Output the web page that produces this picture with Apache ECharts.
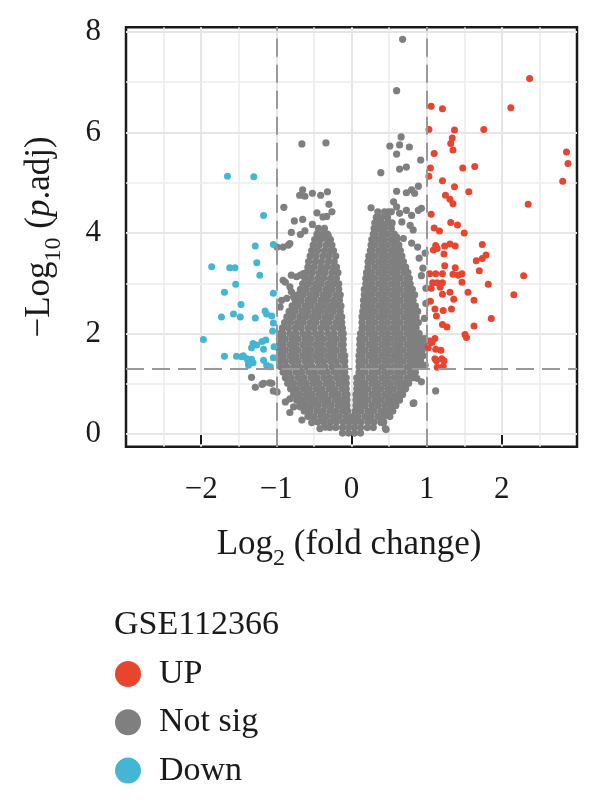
<!DOCTYPE html>
<html><head><meta charset="utf-8">
<script src="https://cdn.jsdelivr.net/npm/echarts@6/dist/echarts.min.js"></script>
<style>html,body{margin:0;padding:0;background:#fff}#c{width:600px;height:806px}</style>
</head><body><div id="c"></div>
<script>
// ---- data ----
const xTicks = [-2, -1, 0, 1, 2];
const yTicks = [0, 2, 4, 6, 8];
const yMajorGrid = [0, 2, 4, 6, 8];
const yMinorGrid = [1, 3, 5, 7];
const fcCut = [-1, 1];
const padjCut = 1.3;
const legendTitle = 'GSE112366';
const groupNames = ['UP', 'Not sig', 'Down'];

const upPoints = [
[2.37,7.07],[1.06,6.52],[1.21,6.47],[2.12,6.49],[1.03,6.06],[1.37,6.05],[1.76,6.06],[1.34,5.89],[1.32,5.78],[1.35,5.65],
[1.10,5.58],[2.86,5.61],[2.88,5.38],[1.05,5.29],[1.48,5.29],[1.64,5.32],[1.03,5.13],[1.21,5.04],[2.81,5.03],[1.37,4.92],
[1.56,4.82],[1.25,4.75],[1.31,4.67],[1.35,4.58],[2.35,4.57],[1.06,4.37],[1.32,4.21],[1.41,4.16],[1.10,4.10],[1.17,4.04],
[1.50,4.00],[1.74,3.77],[1.12,3.75],[1.24,3.74],[1.31,3.78],[1.38,3.74],[1.09,3.66],[1.23,3.58],[1.14,3.69],[1.79,3.56],
[1.74,3.49],[1.66,3.45],[1.24,3.35],[1.38,3.31],[1.70,3.25],[1.04,3.19],[1.12,3.19],[1.21,3.19],[1.35,3.18],[1.42,3.16],
[1.47,3.19],[2.29,3.15],[1.47,3.02],[1.08,3.01],[1.14,3.01],[1.21,3.01],[1.06,2.90],[1.18,2.92],[1.31,2.82],[1.55,2.82],
[1.82,2.98],[2.16,2.77],[1.21,2.78],[1.05,2.64],[1.36,2.68],[1.63,2.66],[1.11,2.49],[1.22,2.46],[1.33,2.49],[1.13,2.35],
[1.86,2.30],[1.21,2.18],[1.27,2.13],[1.63,2.15],[1.51,1.98],[1.53,1.92],[1.11,1.90],[1.07,1.82],[1.02,1.72],[1.12,1.69],
[1.19,1.67],[1.11,1.50],[1.20,1.50],[1.23,1.46],[1.13,1.46],[1.22,1.35],[1.04,1.85],[1.14,1.33]
];

const downPoints = [
[-1.65,5.13],[-1.30,5.12],[-1.17,4.35],[-1.28,3.74],[-1.04,3.77],[-1.86,3.33],[-1.62,3.31],[-1.55,3.31],[-1.26,3.41],[-1.22,3.16],
[-1.69,2.82],[-1.54,2.98],[-1.04,2.80],[-1.47,2.58],[-1.73,2.33],[-1.57,2.39],[-1.48,2.33],[-1.28,2.31],[-1.15,2.45],[-1.13,2.39],
[-1.06,2.35],[-1.04,2.21],[-1.05,2.05],[-1.97,1.88],[-1.31,1.80],[-1.26,1.77],[-1.19,1.84],[-1.14,1.87],[-1.33,1.72],[-1.17,1.69],
[-1.03,1.74],[-1.69,1.55],[-1.53,1.55],[-1.46,1.54],[-1.39,1.50],[-1.33,1.49],[-1.37,1.42],[-1.31,1.42],[-1.37,1.37],[-1.17,1.47],
[-1.13,1.37],[-1.08,1.34],[-1.04,1.52],[-1.44,1.56]
];

const notSigScatter = [
[0.68,7.85],[0.60,6.83],[-0.66,5.77],[-0.34,5.79],
[0.66,5.91],[0.64,5.75],[0.51,5.73],[0.77,5.71],[0.60,5.57],[0.92,5.45],[0.39,5.20],[0.64,5.27],[0.73,5.31],
[0.89,4.93],[0.80,4.86],[0.73,4.80],[0.60,4.83],[0.84,4.79],
[0.26,4.50],[0.56,4.62],[0.60,4.52],[0.53,4.42],[0.64,4.39],[0.73,4.45],[0.80,4.35],[0.89,4.45],[0.93,4.49],
[0.34,4.22],[0.42,4.15],[0.53,4.19],[0.67,4.22],[0.78,4.15],[0.82,4.06],
[0.29,3.89],[0.42,3.92],[0.60,3.92],[0.69,3.89],
[-0.65,4.86],[-0.69,4.75],[-0.62,4.73],[-0.52,4.79],[-0.41,4.75],[-0.32,4.82],
[-0.90,4.51],[-0.30,4.57],[-0.26,4.42],[-0.33,4.33],[-0.46,4.40],[-0.38,4.32],
[-0.76,4.24],[-0.65,4.27],[-0.52,4.17],
[-0.80,4.01],[-0.68,3.97],[-0.62,4.04],[-0.44,3.94],[-0.38,3.92],[-0.31,3.95],
[-0.84,3.76],[-0.91,3.72],[-0.99,3.72],[-0.82,3.79],
[-0.91,3.06],[-0.80,2.83],[-0.82,2.93],[-0.93,2.66],[-0.86,2.70],[-0.95,2.53],
[-0.80,3.16],[-0.73,3.13],[-0.68,3.16],[-0.64,3.19],[-0.77,2.73],[-0.88,3.02],
[-1.33,1.13],[-1.28,0.93],[-1.19,0.99],[-1.06,1.01],[-1.04,0.86],[-0.99,0.84],[-0.88,0.64],[-0.82,0.70],[-0.82,0.43],
[-0.66,0.28],[-0.77,0.54],[-0.68,0.54],[-0.57,0.50],[-0.53,0.23],[-0.42,0.11],[-0.35,0.14],[-1.09,1.02],[-1.17,1.01],
[1.12,0.86],[0.82,0.61],[0.87,1.11],[0.93,1.04],[0.80,1.14],[0.64,0.68],[0.56,0.71],[0.45,0.11],[0.40,0.23],[0.46,0.09],
[0.93,1.36],[0.98,1.37],[0.83,0.62],
[0.97,2.30],[0.99,2.90],[0.95,3.30],[0.98,3.60],[0.90,3.50],[0.93,3.15],[0.97,1.90],[0.99,2.60],[0.88,3.72],[0.80,3.80]
];

// dense core of the "Not sig" cloud, one row per -log10(padj) level: [y, [log2FC values]]
const notSigRows = [
[0.02,[-0.12,-0.04,0.04,0.12]],
[0.13,[-0.29,-0.21,-0.12,-0.04,0.04,0.12,0.21,0.29]],
[0.24,[-0.45,-0.37,-0.28,-0.20,-0.11,-0.03,0.05,0.13,0.22,0.30,0.39,0.43]],
[0.35,[-0.58,-0.50,-0.41,-0.33,-0.24,-0.16,-0.07,0.01,0.09,0.18,0.26,0.35,0.43,0.51]],
[0.46,[-0.63,-0.55,-0.46,-0.38,-0.29,-0.21,-0.12,-0.05,0.05,0.13,0.22,0.30,0.39,0.47,0.55]],
[0.57,[-0.69,-0.61,-0.52,-0.44,-0.35,-0.27,-0.18,-0.10,-0.06,0.06,0.10,0.18,0.27,0.35,0.44,0.52,0.59]],
[0.68,[-0.73,-0.65,-0.56,-0.48,-0.39,-0.31,-0.22,-0.14,-0.06,0.06,0.14,0.22,0.31,0.39,0.48,0.56,0.63]],
[0.79,[-0.77,-0.69,-0.60,-0.52,-0.43,-0.35,-0.26,-0.18,-0.09,-0.06,0.06,0.10,0.18,0.27,0.35,0.44,0.52,0.61,0.68]],
[0.90,[-0.81,-0.73,-0.64,-0.56,-0.47,-0.39,-0.30,-0.22,-0.13,-0.07,0.07,0.14,0.22,0.31,0.39,0.48,0.56,0.65,0.72]],
[1.01,[-0.85,-0.77,-0.68,-0.60,-0.51,-0.43,-0.34,-0.26,-0.17,-0.09,-0.07,0.07,0.10,0.18,0.27,0.35,0.44,0.52,0.61,0.69,0.76]],
[1.12,[-0.88,-0.80,-0.71,-0.63,-0.54,-0.46,-0.37,-0.29,-0.20,-0.12,-0.07,0.07,0.14,0.23,0.31,0.40,0.48,0.57,0.65,0.74,0.81]],
[1.23,[-0.91,-0.83,-0.74,-0.66,-0.57,-0.49,-0.40,-0.32,-0.23,-0.15,-0.09,0.10,0.18,0.27,0.35,0.44,0.52,0.61,0.69,0.78,0.85]],
[1.34,[-0.94,-0.86,-0.77,-0.69,-0.60,-0.52,-0.43,-0.35,-0.26,-0.18,-0.09,0.10,0.14,0.23,0.31,0.40,0.48,0.57,0.65,0.74,0.82,0.88]],
[1.45,[-0.96,-0.88,-0.79,-0.71,-0.62,-0.54,-0.45,-0.37,-0.28,-0.20,-0.11,-0.09,0.10,0.18,0.27,0.35,0.44,0.52,0.61,0.69,0.78,0.86,0.92]],
[1.56,[-0.96,-0.91,-0.82,-0.74,-0.65,-0.57,-0.48,-0.40,-0.31,-0.23,-0.14,-0.09,0.10,0.14,0.23,0.31,0.40,0.48,0.57,0.65,0.74,0.82,0.90,0.95]],
[1.67,[-0.96,-0.88,-0.79,-0.71,-0.62,-0.54,-0.45,-0.37,-0.28,-0.20,-0.11,0.11,0.18,0.27,0.35,0.44,0.52,0.61,0.69,0.78,0.86,0.94]],
[1.78,[-0.96,-0.91,-0.82,-0.74,-0.65,-0.57,-0.48,-0.40,-0.31,-0.23,-0.14,-0.11,0.11,0.14,0.23,0.31,0.40,0.48,0.57,0.65,0.74,0.82,0.90,0.96]],
[1.89,[-0.96,-0.88,-0.79,-0.71,-0.62,-0.54,-0.45,-0.37,-0.28,-0.20,-0.11,0.11,0.18,0.27,0.35,0.44,0.52,0.61,0.69,0.78,0.86,0.94]],
[2.00,[-0.95,-0.91,-0.82,-0.74,-0.65,-0.57,-0.48,-0.40,-0.31,-0.23,-0.14,-0.11,0.12,0.14,0.23,0.31,0.40,0.48,0.57,0.65,0.74,0.82,0.90]],
[2.11,[-0.92,-0.84,-0.75,-0.67,-0.58,-0.50,-0.41,-0.33,-0.24,-0.16,-0.12,0.14,0.19,0.27,0.36,0.44,0.53,0.61,0.70,0.78,0.86]],
[2.22,[-0.89,-0.81,-0.72,-0.64,-0.55,-0.47,-0.38,-0.30,-0.21,-0.13,0.14,0.23,0.31,0.40,0.48,0.57,0.65,0.74,0.82,0.89]],
[2.33,[-0.86,-0.78,-0.69,-0.61,-0.52,-0.44,-0.35,-0.27,-0.18,-0.13,0.14,0.19,0.27,0.36,0.44,0.53,0.61,0.70,0.78,0.86]],
[2.44,[-0.83,-0.75,-0.66,-0.58,-0.49,-0.41,-0.32,-0.24,-0.15,0.15,0.23,0.31,0.40,0.48,0.57,0.65,0.74,0.82,0.88]],
[2.55,[-0.79,-0.71,-0.62,-0.54,-0.45,-0.37,-0.28,-0.20,-0.14,0.16,0.19,0.27,0.36,0.44,0.53,0.61,0.70,0.78,0.85]],
[2.66,[-0.75,-0.67,-0.58,-0.50,-0.41,-0.33,-0.24,-0.16,0.16,0.23,0.31,0.40,0.48,0.57,0.65,0.74,0.82]],
[2.77,[-0.72,-0.64,-0.55,-0.47,-0.38,-0.30,-0.21,-0.15,0.17,0.19,0.27,0.36,0.44,0.53,0.61,0.70,0.78,0.84]],
[2.88,[-0.68,-0.60,-0.51,-0.43,-0.34,-0.26,-0.17,0.17,0.23,0.31,0.40,0.48,0.57,0.65,0.74,0.81]],
[2.99,[-0.65,-0.57,-0.48,-0.40,-0.31,-0.23,-0.17,0.19,0.27,0.36,0.44,0.53,0.61,0.70,0.78]],
[3.10,[-0.62,-0.54,-0.45,-0.37,-0.28,-0.20,0.19,0.23,0.31,0.40,0.48,0.57,0.65,0.74,0.77]],
[3.21,[-0.60,-0.52,-0.43,-0.35,-0.26,-0.18,0.20,0.27,0.36,0.44,0.53,0.61,0.70,0.75]],
[3.32,[-0.58,-0.50,-0.41,-0.33,-0.24,-0.20,0.22,0.31,0.40,0.48,0.57,0.65,0.72]],
[3.43,[-0.57,-0.48,-0.40,-0.31,-0.23,0.22,0.27,0.36,0.44,0.53,0.61,0.69]],
[3.54,[-0.55,-0.47,-0.38,-0.30,-0.21,0.23,0.31,0.40,0.48,0.57,0.65,0.67]],
[3.65,[-0.53,-0.45,-0.36,-0.28,-0.24,0.25,0.27,0.36,0.44,0.53,0.61,0.65]],
[3.76,[-0.51,-0.43,-0.34,-0.26,0.26,0.31,0.40,0.48,0.57,0.63]],
[3.87,[-0.49,-0.41,-0.32,-0.28,0.27,0.36,0.44,0.53,0.60]],
[3.98,[-0.46,-0.38,-0.32,0.29,0.31,0.40,0.48,0.57]],
[4.09,[-0.44,-0.36,0.30,0.36,0.44,0.53]],
[4.20,[0.31,0.40,0.48,0.54]],
[4.31,[0.33,0.40,0.48]],
[4.42,[0.35,0.44,0.49]]
];

// ---- build ----
const notSigPoints = [];
notSigRows.forEach(r => r[1].forEach(x => notSigPoints.push([x, r[0]])));
notSigScatter.forEach(p => notSigPoints.push(p));

const FF = "'Liberation Serif','Times New Roman',serif";
const INK = '#1a1a1a';
const minus = v => String(v).replace('-', '\u2212');

const chart = echarts.init(document.getElementById('c'), null, {renderer: 'canvas'});
const gridLine = (v, major) => ({yAxis: v, lineStyle: {color: major ? '#e6e6e6' : '#ececec', width: major ? 2 : 1.5, type: 'solid'}});

chart.setOption({
  animation: false,
  backgroundColor: '#fff',
  grid: {left: 126, top: 27.3, width: 451, height: 419.4, show: true, borderColor: INK, borderWidth: 2.5, backgroundColor: '#fff'},
  xAxis: {
    type: 'value', min: -3, max: 3, interval: 1,
    axisLine: {show: false},
    axisTick: {show: true, customValues: xTicks, length: 10, lineStyle: {color: INK, width: 2}},
    axisLabel: {customValues: xTicks, margin: 28, fontSize: 31, fontFamily: FF, color: INK, formatter: minus},
    splitLine: {show: true, lineStyle: {color: '#e6e6e6', width: 2}},
    minorTick: {show: false, splitNumber: 2},
    minorSplitLine: {show: true, lineStyle: {color: '#ececec', width: 1.5}}
  },
  yAxis: {
    type: 'value', min: -0.25, max: 8.09,
    axisLine: {show: false},
    axisTick: {show: true, customValues: yTicks, length: 9, lineStyle: {color: INK, width: 2}},
    axisLabel: {customValues: yTicks, margin: 25, fontSize: 31, fontFamily: FF, color: INK, formatter: minus},
    splitLine: {show: false}
  },
  legend: {
    data: groupNames, orient: 'vertical', left: 115, top: 657, height: 170, padding: 0,
    itemWidth: 26, itemHeight: 26, itemGap: 14.3, icon: 'circle', selectedMode: false,
    textStyle: {fontFamily: FF, fontSize: 34, color: INK, lineHeight: 26, padding: [0, 0, 0, 13]}
  },
  graphic: [
    {type: 'text', x: 114, y: 625, style: {text: legendTitle, fontFamily: FF, fontSize: 34, fill: INK, verticalAlign: 'middle', align: 'left'}},
    {type: 'text', x: 349, y: 545.75, style: {
      text: '{n|Log}{s|2}{n| (fold change)}', align: 'center', verticalAlign: 'middle', fill: INK,
      rich: {n: {fontFamily: FF, fontSize: 35, lineHeight: 36, verticalAlign: 'top', fill: INK},
             s: {fontFamily: FF, fontSize: 24, lineHeight: 24, verticalAlign: 'top', padding: [18.5, 0, 0, 0], fill: INK}}
    }},
    {type: 'text', x: 40.75, y: 237, rotation: Math.PI / 2, style: {
      text: '{n|\u2212Log}{s|10}{n| (}{i|p}{n|.adj)}', align: 'center', verticalAlign: 'middle', fill: INK,
      rich: {n: {fontFamily: FF, fontSize: 35, lineHeight: 36, verticalAlign: 'top', fill: INK},
             i: {fontFamily: FF, fontSize: 35, fontStyle: 'italic', lineHeight: 36, verticalAlign: 'top', fill: INK},
             s: {fontFamily: FF, fontSize: 24, lineHeight: 24, verticalAlign: 'top', padding: [18.5, 0, 0, 0], fill: INK}}
    }}
  ],
  series: [
    {type: 'scatter', name: '_grid', data: [], z: 1, silent: true,
     markLine: {z: 1, silent: true, symbol: ['none', 'none'], label: {show: false}, animation: false,
       data: yMajorGrid.map(v => gridLine(v, true)).concat(yMinorGrid.map(v => gridLine(v, false)))}},
    {type: 'scatter', name: 'Not sig', data: notSigPoints, symbolSize: 7.2, z: 2,
     itemStyle: {color: '#7f7f7f', opacity: 1}, emphasis: {disabled: true}},
    {type: 'scatter', name: 'UP', data: upPoints, symbolSize: 7, z: 3,
     itemStyle: {color: '#e8452f', opacity: 1}, emphasis: {disabled: true}},
    {type: 'scatter', name: 'Down', data: downPoints, symbolSize: 7, z: 3,
     itemStyle: {color: '#45b5d4', opacity: 1}, emphasis: {disabled: true}},
    {type: 'scatter', name: '_cut', data: [], z: 6, silent: true,
     markLine: {z: 6, silent: true, symbol: ['none', 'none'], label: {show: false}, animation: false,
       lineStyle: {color: '#999999', width: 2, type: [18, 8]},
       data: fcCut.map(v => ({xAxis: v})).concat([{yAxis: padjCut}])}}
  ]
});
</script>
</body></html>
